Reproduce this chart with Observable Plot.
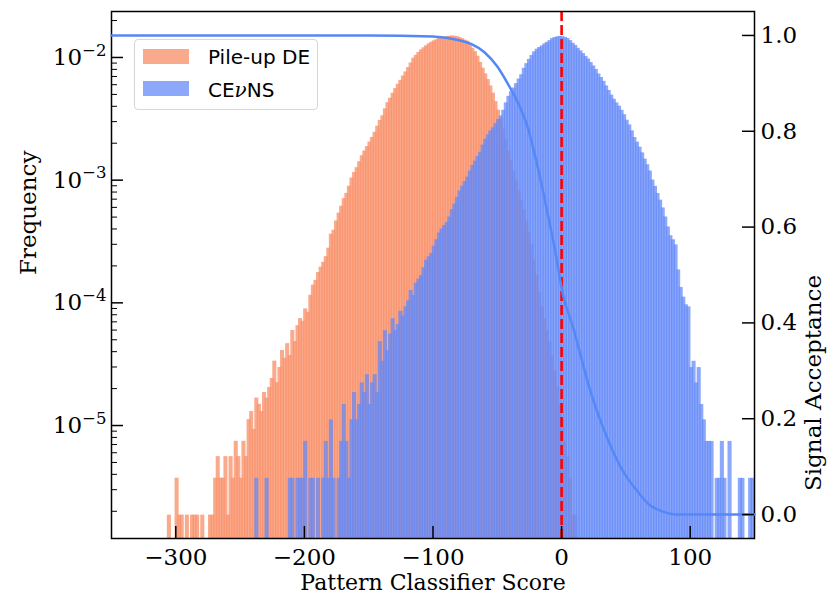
<!DOCTYPE html>
<html><head><meta charset="utf-8">
<script src="https://cdn.jsdelivr.net/npm/d3@7"></script>
<script src="https://cdn.jsdelivr.net/npm/@observablehq/plot@0.6"></script>
<style>
body{margin:0;background:#fff;}
#wrap{position:relative;width:831px;height:602px;overflow:hidden;}
#wrap svg{position:absolute;left:0;top:0;}
.legend{position:absolute;left:134px;top:39px;width:182px;height:69px;border:1px solid #d6d6d6;border-radius:4px;background:rgba(255,255,255,0.8);font-family:"DejaVu Sans";font-size:20px;color:#000;}
.legend .patch{position:absolute;left:8px;width:46px;height:15px;}
.legend .lab{position:absolute;left:73px;line-height:24px;white-space:nowrap;}
</style></head><body><div id="wrap"></div>
<script>
// ---- data ----
const binWidth = 2;
// Pile-up DE histogram: counts per bin, first bin starts at -306
const pileupStart = -306;
const pileupPerCount = 1.86e-6;
const pileupCounts = [1,0,0,2,1,1,0,1,0,1,1,1,0,1,0,0,1,1,2,3,2,2,3,1,3,2,4,3,2,4,3,6,7,5,9,8,7,10,9,11,13,18,12,16,22,19,25,20,32,26,35,40,38,48,45,62,75,82,95,105,115,128,150,195,210,250,290,330,380,420,480,560,620,680,760,850,930,1010,1100,1200,1320,1480,1650,1800,2050,2300,2500,2750,3000,3250,3500,3800,4100,4450,4850,5300,5600,5900,6200,6450,6700,6950,7150,7350,7500,7700,7800,7900,7950,8000,8050,8000,7950,7800,7650,7450,7300,6900,6400,6000,5500,4900,4400,3950,3550,3150,2750,2350,2000,1700,1400,1150,930,780,640,530,440,370,310,250,200,160,120,90,65,50,40,32,26,20,15,11,8,6,4,3,2,1,1];
// CEvNS histogram: counts per bin, first bin starts at -238
const cevnsStart = -238;
const cevnsPerCount = 3.71e-6;
const cevnsCounts = [1,0,0,0,1,0,0,0,0,0,0,0,0,1,1,0,1,1,1,2,0,1,1,0,1,0,1,2,1,3,1,0,1,2,4,2,1,3,5,3,4,6,5,7,4,6,7,5,13,9,16,11,15,20,16,18,23,21,25,28,34,31,39,42,45,52,60,64,68,78,88,100,108,115,122,135,155,172,195,220,240,262,285,320,355,385,420,455,520,580,630,680,720,780,840,900,1000,1150,1300,1420,1520,1650,1800,1950,2200,2400,2600,2800,3000,3150,3250,3350,3480,3580,3700,3850,3920,3970,4000,3980,3930,3850,3700,3520,3380,3200,3050,2900,2750,2620,2450,2300,2150,1980,1850,1720,1580,1450,1330,1230,1150,1080,1000,920,830,760,680,600,550,500,450,400,360,320,270,240,210,185,160,135,112,95,88,80,50,36,30,26,25,8,9,6,8,4,3,2,2,2,0,1,1,2,1,0,2,0,0,0,1,1,0,0,1,1];
// Signal acceptance curve
const accScore = [-350,-150,-100,-90,-80,-70,-60,-50,-42,-34,-26,-19,-11,-5,1,9,16,21,29,37,47,58,68,79,89,150];
const accValue = [1.0,1.0,0.998,0.995,0.99,0.982,0.965,0.935,0.90,0.86,0.805,0.73,0.63,0.55,0.46,0.39,0.32,0.27,0.205,0.15,0.094,0.052,0.021,0.006,0.0,0.0];
// ticks
const xTicks = [-300,-200,-100,0,100];
const freqTicks = [1e-5,1e-4,1e-3,1e-2];
const freqMinorTicks = [2e-6,3e-6,4e-6,5e-6,6e-6,7e-6,8e-6,9e-6,2e-5,3e-5,4e-5,5e-5,6e-5,7e-5,8e-5,9e-5,2e-4,3e-4,4e-4,5e-4,6e-4,7e-4,8e-4,9e-4,2e-3,3e-3,4e-3,5e-3,6e-3,7e-3,8e-3,9e-3,2e-2];
const accTicks = [0,0.2,0.4,0.6,0.8,1.0];
const xDomain = [-350,150];
const freqDomain = [1.2e-6,0.0237];
const accDomain = [-0.05,1.05];

// ---- layout / style ----
const W = 831, H = 602, ML = 111, MR = 77, MT = 11, MB = 64;
const PW = W-ML-MR, PH = H-MT-MB;
const orange = "#f8906a", blue = "#6489f8", lineBlue = "#5588f7";
const serif = "DejaVu Serif";
const fs = 23;

const toBins = (counts, start, per) => counts.map((c,i)=>({x1:start+i*binWidth, x2:start+(i+1)*binWidth, f:c*per})).filter(d=>d.f>0);
const pileup = toBins(pileupCounts, pileupStart, pileupPerCount);
const cevns = toBins(cevnsCounts, cevnsStart, cevnsPerCount);
const acc = accScore.map((s,i)=>({s, a:accValue[i]}));
const minus = d => d<0 ? "\u2212"+Math.abs(d) : String(d);

const p1 = Plot.plot({
  width:W, height:H, marginLeft:ML, marginRight:MR, marginTop:MT, marginBottom:MB,
  x:{domain:xDomain},
  y:{type:"log", domain:freqDomain},
  style:{fontFamily:serif, fontSize:fs+"px", color:"#000", background:"#fff"},
  marks:[
    Plot.rect(pileup, {x1:"x1", x2:"x2", y1:()=>freqDomain[0], y2:"f", fill:orange, fillOpacity:0.77, insetLeft:-0.75, insetRight:-0.75}),
    Plot.rect(cevns, {x1:"x1", x2:"x2", y1:()=>freqDomain[0], y2:"f", fill:blue, fillOpacity:0.74, insetLeft:-0.75, insetRight:-0.75}),
    Plot.ruleX([0], {stroke:"red", strokeWidth:2.6, strokeDasharray:"10,4"}),
    Plot.ruleX(xTicks, {x:d=>d, insetTop:PH-12, stroke:"#000", strokeWidth:1.5}),
    Plot.ruleY(freqTicks, {y:d=>d, insetRight:PW-12, stroke:"#000", strokeWidth:1.5}),
    Plot.ruleY(freqMinorTicks, {y:d=>d, insetRight:PW-6, stroke:"#000", strokeWidth:1}),
    Plot.axisX({ticks:xTicks, tickSize:0, tickPadding:10, tickFormat:minus, label:null}),
    Plot.axisY({ticks:freqTicks, tickSize:0, tickPadding:5, tickFormat:d=>"10|"+Math.round(Math.log10(d)), label:null}),
    Plot.frame({stroke:"#000", strokeWidth:1.5}),
    Plot.text(["Frequency"], {frameAnchor:"left", dx:-83, rotate:-90, fontSize:fs}),
    Plot.text(["Pattern Classifier Score"], {frameAnchor:"bottom", dy:51, fontSize:22})
  ]
});

const p2 = Plot.plot({
  width:W, height:H, marginLeft:ML, marginRight:MR, marginTop:MT, marginBottom:MB,
  x:{domain:xDomain, axis:null},
  y:{domain:accDomain},
  style:{fontFamily:serif, fontSize:fs+"px", color:"#000", background:"transparent"},
  marks:[
    Plot.line(acc, {x:"s", y:"a", stroke:lineBlue, strokeWidth:2.5, curve:"monotone-x"}),
    Plot.ruleY(accTicks, {y:d=>d, insetLeft:PW-12, stroke:"#000", strokeWidth:1.5}),
    Plot.axisY({anchor:"right", ticks:accTicks, tickSize:0, tickPadding:6, tickFormat:d3.format(".1f"), label:null}),
    Plot.text(["Signal Acceptance"], {frameAnchor:"right", dx:59, rotate:-90, fontSize:fs})
  ]
});

const wrap = document.getElementById("wrap");
wrap.appendChild(p1);
wrap.appendChild(p2);

// superscript exponents for the log axis labels
d3.select(p1).selectAll('g[aria-label="y-axis tick label"] text').each(function(){
  const parts = this.textContent.split("|");
  if (parts.length !== 2) return;
  const e = +parts[1];
  const t = d3.select(this);
  t.text(null);
  t.append("tspan").text(parts[0]);
  t.append("tspan").attr("dy","-0.55em").attr("font-size","0.72em").text((e<0?"\u2212":"")+Math.abs(e));
});

// legend
const lg = document.createElement("div");
lg.className = "legend";
lg.innerHTML = `<div class="patch" style="top:9px;background:${orange};opacity:0.77"></div>
<div class="lab" style="top:5px">Pile-up DE</div>
<div class="patch" style="top:41px;background:${blue};opacity:0.74"></div>
<div class="lab" style="top:38px">CE<i style="font-family:'DejaVu Serif'">\u03bd</i>NS</div>`;
wrap.appendChild(lg);
</script>
</body></html>
